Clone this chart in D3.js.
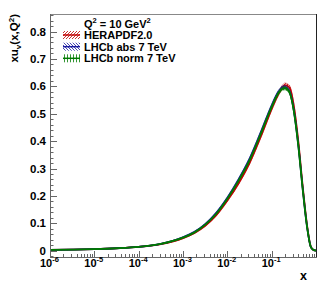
<!DOCTYPE html>
<html><head><meta charset="utf-8">
<script src="https://cdn.jsdelivr.net/npm/d3@7"></script>
<style>
html,body{margin:0;padding:0;background:#fff;}
text{font-family:"Liberation Sans",Arial,Helvetica,sans-serif;font-weight:bold;fill:#000;}
</style></head>
<body><svg id="c" width="332" height="288"></svg>
<script>
// log10(x) grid
const logX = [-6,-5.5,-5,-4.5,-4,-3.5,-3,-2.75,-2.5,-2.25,-2,-1.75,-1.5,-1.25,-1,-0.85,-0.75,-0.7,-0.6,-0.5,-0.4,-0.3,-0.2,-0.12,-0.06,0];
const heraVal = [0.003,0.004,0.006,0.009,0.014,0.024,0.046,0.064,0.091,0.130,0.183,0.245,0.320,0.415,0.518,0.572,0.598,0.604,0.596,0.528,0.400,0.235,0.090,0.016,0.003,0.0005];
const heraErr = [0.001,0.001,0.001,0.001,0.001,0.001,0.002,0.002,0.002,0.003,0.003,0.004,0.004,0.005,0.006,0.007,0.008,0.008,0.008,0.007,0.006,0.005,0.003,0.001,0.001,0.0005];
const absVal  = [0.003,0.004,0.006,0.009,0.014,0.025,0.049,0.068,0.097,0.138,0.193,0.259,0.335,0.430,0.530,0.579,0.596,0.597,0.582,0.512,0.386,0.226,0.085,0.015,0.003,0.0005];
const absErr  = [0.001,0.001,0.001,0.001,0.001,0.001,0.002,0.002,0.002,0.003,0.003,0.004,0.004,0.005,0.005,0.006,0.006,0.006,0.006,0.006,0.005,0.004,0.003,0.001,0.001,0.0005];
const normVal = [0.003,0.004,0.006,0.009,0.014,0.025,0.048,0.066,0.095,0.135,0.190,0.255,0.330,0.425,0.525,0.575,0.592,0.593,0.579,0.510,0.385,0.225,0.085,0.015,0.003,0.0005];
const normErr = [0.001,0.001,0.001,0.001,0.001,0.001,0.002,0.002,0.002,0.003,0.003,0.004,0.004,0.005,0.005,0.006,0.006,0.006,0.006,0.006,0.005,0.004,0.003,0.001,0.001,0.0005];
const seriesNames = ["HERAPDF2.0","LHCb abs 7 TeV","LHCb norm 7 TeV"];
const yTicks = [0,0.1,0.2,0.3,0.4,0.5,0.6,0.7,0.8];
const yTickLabels = ["0","0.1","0.2","0.3","0.4","0.5","0.6","0.7","0.8"];
const xTickExps = [-6,-5,-4,-3,-2,-1];

const svg = d3.select("#c");
const L=50, R=316, T=14, B=257;
const x = d3.scaleLog().domain([1e-6,1]).range([L,R]);
const y = d3.scaleLinear().domain([-0.023,0.864]).range([B,T]);

const colors = ["#c00000","#1a1aa0","#007a00"];
const defs = svg.append("defs");
function addPat(id, color, type){
  const p = defs.append("pattern").attr("id",id).attr("patternUnits","userSpaceOnUse")
    .attr("width",3).attr("height",3);
  if(type==="fwd") p.append("path").attr("d","M-1,1 l2,-2 M0,3 l3,-3 M2,4 l2,-2");
  else if(type==="back") p.append("path").attr("d","M-1,2 l2,2 M0,0 l3,3 M2,-1 l2,2");
  else p.append("path").attr("d","M1.5,0 v3");
  p.select("path").attr("stroke",color).attr("stroke-width",0.8);
}
addPat("p0",colors[0],"fwd");
addPat("p1",colors[1],"back");
addPat("p2",colors[2],"vert");

const sets = [[heraVal,heraErr],[absVal,absErr],[normVal,normErr]];
const clip = defs.append("clipPath").attr("id","clip");
clip.append("rect").attr("x",L).attr("y",T).attr("width",R-L).attr("height",B-T);

const plot = svg.append("g").attr("clip-path","url(#clip)");
sets.forEach((s,i)=>{
  const data = logX.map((lx,k)=>({x:Math.pow(10,lx),v:s[0][k],e:s[1][k]}));
  const area = d3.area().x(d=>x(d.x)).y0(d=>y(d.v-d.e)).y1(d=>y(d.v+d.e)).curve(d3.curveMonotoneX);
  plot.append("path").attr("d",area(data)).attr("fill","url(#p"+i+")").attr("stroke",colors[i]).attr("stroke-width",0.6).attr("stroke-opacity",0.8);
  const line = d3.line().x(d=>x(d.x)).y(d=>y(d.v)).curve(d3.curveMonotoneX);
  plot.append("path").attr("d",line(data)).attr("fill","none").attr("stroke",colors[i]).attr("stroke-width",1.8);
});

// frame
const ax = svg.append("g").attr("stroke","#666").attr("stroke-width",1).attr("fill","none");
ax.append("line").attr("x1",L).attr("x2",R).attr("y1",T+0.5).attr("y2",T+0.5).attr("stroke","#888");
ax.append("line").attr("x1",R+0.5).attr("x2",R+0.5).attr("y1",T).attr("y2",B).attr("stroke","#222");
ax.append("line").attr("x1",L+0.5).attr("x2",L+0.5).attr("y1",T).attr("y2",B+0.5);
ax.append("line").attr("x1",L).attr("x2",R+1).attr("y1",B+0.5).attr("y2",B+0.5);

// x ticks
for(let e=-6;e<0;e++){
  for(let m=1;m<10;m++){
    const v=m*Math.pow(10,e);
    const px=Math.round(x(v))+0.5;
    const len = m===1?6:3;
    ax.append("line").attr("x1",px).attr("x2",px).attr("y1",B).attr("y2",B-len);
  }
}
// y ticks
for(let k=-1;k<=43;k++){
  const v=k*0.02;
  if(v<-0.023||v>0.864) continue;
  const py=Math.round(y(v))+0.5;
  const len = (k%5===0)?7:3.5;
  ax.append("line").attr("x1",L).attr("x2",L+len).attr("y1",py).attr("y2",py);
}
// y tick labels
svg.append("g").selectAll("text").data(yTicks).join("text")
  .attr("x",46).attr("y",d=>y(d)+4).attr("text-anchor","end").attr("font-size",11.5)
  .text((d,i)=>yTickLabels[i]);
// x tick labels
const xl = svg.append("g").selectAll("text").data(xTickExps).join("text")
  .attr("x",d=>x(Math.pow(10,d))-10).attr("y",266.5).attr("text-anchor","start").attr("font-size",11);
xl.append("tspan").text("10");
xl.append("tspan").attr("dy",-4.5).attr("font-size",7.5).text(d=>String(d));

// axis titles
svg.append("text").attr("x",307).attr("y",280).attr("text-anchor","end").attr("font-size",12.5).text("x");
const yt = svg.append("text").attr("transform","translate(18,14) rotate(-90)").attr("text-anchor","end").attr("font-size",11.5);
yt.append("tspan").text("xu");
yt.append("tspan").attr("font-size",8).attr("dy",3).text("v");
yt.append("tspan").attr("dy",-3).text("(x,Q");
yt.append("tspan").attr("font-size",8).attr("dy",-4).text("2");
yt.append("tspan").attr("dy",4).text(")");

// legend
const q = svg.append("text").attr("x",84).attr("y",27.5).attr("font-size",11);
q.append("tspan").text("Q");
q.append("tspan").attr("font-size",7.5).attr("dy",-4.5).text("2");
q.append("tspan").attr("dy",4.5).text(" = 10 GeV");
q.append("tspan").attr("font-size",7.5).attr("dy",-4.5).text("2");

const rowY=[35,46.7,58.3];
seriesNames.forEach((n,i)=>{
  const cy=rowY[i];
  svg.append("rect").attr("x",63).attr("y",cy-4).attr("width",17).attr("height",8).attr("fill","url(#p"+i+")");
  svg.append("line").attr("x1",63).attr("x2",80).attr("y1",cy).attr("y2",cy).attr("stroke",colors[i]).attr("stroke-width",1.5);
  svg.append("text").attr("x",84).attr("y",cy+4).attr("font-size",11).text(n);
});
</script></body></html>
